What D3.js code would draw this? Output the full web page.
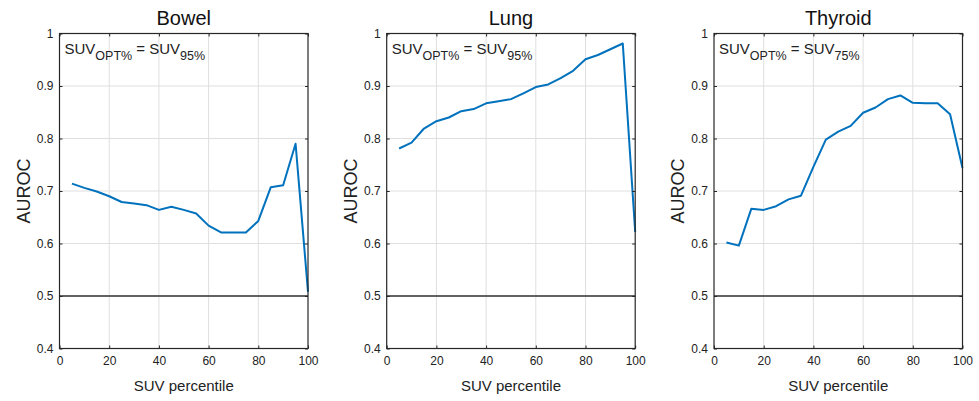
<!DOCTYPE html>
<html>
<head>
<meta charset="utf-8">
<script src="https://cdn.jsdelivr.net/npm/d3@7"></script>
<style>
    body { margin: 0; background: #fff; }
    svg { font-family: "Liberation Sans", Arial, sans-serif; }
</style>
</head>
<body>
<div id="chart"></div>
<script>
// SUV percentiles (x values shared by all panels)
const percentiles = [5, 10, 15, 20, 25, 30, 35, 40, 45, 50, 55, 60, 65, 70, 75, 80, 85, 90, 95, 100];

// AUROC per organ
const bowelAuroc   = [0.714, 0.706, 0.699, 0.690, 0.679, 0.676, 0.673, 0.664, 0.670, 0.664, 0.657, 0.634, 0.621, 0.621, 0.621, 0.643, 0.707, 0.711, 0.790, 0.508];
const lungAuroc    = [0.781, 0.792, 0.819, 0.833, 0.840, 0.852, 0.856, 0.867, 0.871, 0.875, 0.886, 0.898, 0.903, 0.915, 0.929, 0.951, 0.959, 0.970, 0.981, 0.622];
const thyroidAuroc = [0.602, 0.596, 0.666, 0.664, 0.671, 0.684, 0.691, 0.746, 0.798, 0.813, 0.824, 0.849, 0.859, 0.875, 0.882, 0.868, 0.867, 0.867, 0.846, 0.744];

const panelTitles = ["Bowel", "Lung", "Thyroid"];
const optPercent  = ["95%", "95%", "75%"];

const xTicks = [0, 20, 40, 60, 80, 100];
const yTicks = [0.4, 0.5, 0.6, 0.7, 0.8, 0.9, 1];
const chanceLevel = 0.5;

const series = [bowelAuroc, lungAuroc, thyroidAuroc];

// Layout
const W = 979, H = 401;
const panelLeft = [59.5, 386.7, 714];
const plotW = 248.5;
const plotTop = 33.5;
const plotH = 315;

const svg = d3.select("#chart").append("svg")
    .attr("width", W)
    .attr("height", H);

const x = d3.scaleLinear().domain([0, 100]).range([0, plotW]);
const y = d3.scaleLinear().domain([0.4, 1]).range([plotH, 0]);

const axisColor = "#262626";
const lineColor = "#0072BD";

panelTitles.forEach((title, i) => {
    const g = svg.append("g")
        .attr("transform", "translate(" + panelLeft[i] + "," + plotTop + ")");

    // grid lines
    g.selectAll(".vgrid")
        .data(xTicks.slice(1, -1))
        .join("line")
        .attr("x1", d => x(d)).attr("x2", d => x(d))
        .attr("y1", 0).attr("y2", plotH)
        .attr("stroke", "#dfdfdf").attr("stroke-width", 1);

    g.selectAll(".hgrid")
        .data(yTicks.slice(1, -1))
        .join("line")
        .attr("x1", 0).attr("x2", plotW)
        .attr("y1", d => y(d)).attr("y2", d => y(d))
        .attr("stroke", "#dfdfdf").attr("stroke-width", 1);

    // chance line
    g.append("line")
        .attr("x1", 0).attr("x2", plotW)
        .attr("y1", y(chanceLevel)).attr("y2", y(chanceLevel))
        .attr("stroke", "#333").attr("stroke-width", 1.3);

    // data line
    const line = d3.line()
        .x((d, j) => x(percentiles[j]))
        .y(d => y(d));

    g.append("path")
        .datum(series[i])
        .attr("d", line)
        .attr("fill", "none")
        .attr("stroke", lineColor)
        .attr("stroke-width", 2)
        .attr("stroke-linejoin", "round");

    // axes (ticks point inward, MATLAB style)
    const xAxis = d3.axisBottom(x).tickValues(xTicks).tickSize(-3).tickPadding(8).tickFormat(d3.format("d"));
    const yAxis = d3.axisLeft(y).tickValues(yTicks).tickSize(-3).tickPadding(6).tickFormat(d => d === 1 ? "1" : d3.format(".1f")(d));

    const xg = g.append("g")
        .attr("transform", "translate(0," + plotH + ")")
        .call(xAxis);
    const yg = g.append("g").call(yAxis);

    // top/right ticks without labels
    g.append("g").call(d3.axisTop(x).tickValues(xTicks).tickSize(-3).tickFormat(""));
    g.append("g").attr("transform", "translate(" + plotW + ",0)")
        .call(d3.axisRight(y).tickValues(yTicks).tickSize(-3).tickFormat(""));

    g.selectAll(".domain").remove();
    g.selectAll(".tick line").attr("stroke", axisColor);
    [xg, yg].forEach(a => a.selectAll("text")
        .attr("fill", "#222")
        .style("font-size", "12px"));

    // box
    g.append("rect")
        .attr("width", plotW).attr("height", plotH)
        .attr("fill", "none")
        .attr("stroke", axisColor).attr("stroke-width", 1.2);

    // title
    g.append("text")
        .attr("x", plotW / 2)
        .attr("y", -9)
        .attr("text-anchor", "middle")
        .style("font-size", "20px")
        .attr("fill", "#111")
        .text(title);

    // x label
    g.append("text")
        .attr("x", plotW / 2)
        .attr("y", plotH + 42)
        .attr("text-anchor", "middle")
        .style("font-size", "15px")
        .attr("fill", "#222")
        .text("SUV percentile");

    // y label
    g.append("text")
        .attr("transform", "rotate(-90)")
        .attr("x", -plotH / 2)
        .attr("y", -30)
        .attr("text-anchor", "middle")
        .style("font-size", "18px")
        .attr("fill", "#222")
        .text("AUROC");

    // annotation SUV_OPT% = SUV_xx%
    const ann = g.append("text")
        .attr("x", 5)
        .attr("y", 20)
        .attr("fill", "#222")
        .style("font-size", "15px");
    ann.append("tspan").text("SUV");
    ann.append("tspan").attr("dy", 6.5).style("font-size", "12.5px").text("OPT%");
    ann.append("tspan").attr("dy", -6.5).text(" = SUV");
    ann.append("tspan").attr("dy", 6.5).style("font-size", "12.5px").text(optPercent[i]);
});
</script>
</body>
</html>
